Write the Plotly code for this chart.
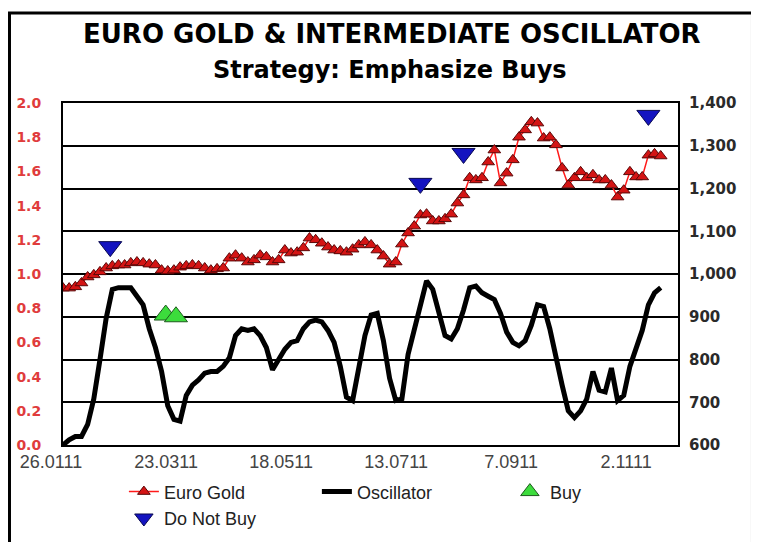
import pandas as pd
import plotly.graph_objects as go

# ---------------- data ----------------
start_date = "2011-01-26"
step = "3D"

euro_gold = [967, 967, 970, 979, 993, 998, 1005, 1014, 1019, 1021,
             1021, 1026, 1028, 1026, 1023, 1021, 1009, 1007, 1009, 1016,
             1019, 1021, 1019, 1014, 1009, 1012, 1014, 1037, 1044, 1037,
             1028, 1033, 1044, 1040, 1028, 1033, 1056, 1049, 1051, 1061,
             1084, 1080, 1072, 1063, 1056, 1054, 1051, 1058, 1068, 1075,
             1068, 1056, 1042, 1023, 1028, 1070, 1096, 1112, 1138, 1140,
             1124, 1124, 1129, 1140, 1166, 1185, 1225, 1220, 1225, 1262,
             1290, 1213, 1236, 1267, 1320, 1337, 1356, 1353, 1318, 1320,
             1302, 1248, 1208, 1225, 1239, 1225, 1232, 1220, 1220, 1208,
             1180, 1196, 1239, 1227, 1227, 1278, 1281, 1276]

oscillator = [0.00, 0.03, 0.05, 0.05, 0.12, 0.27, 0.50, 0.74, 0.91, 0.92,
              0.92, 0.92, 0.87, 0.82, 0.68, 0.57, 0.43, 0.23, 0.15, 0.14,
              0.29, 0.35, 0.38, 0.42, 0.43, 0.43, 0.46, 0.51, 0.64, 0.68,
              0.67, 0.68, 0.64, 0.57, 0.44, 0.50, 0.56, 0.60, 0.61, 0.68,
              0.72, 0.73, 0.72, 0.67, 0.60, 0.46, 0.28, 0.26, 0.44, 0.64,
              0.76, 0.77, 0.61, 0.39, 0.26, 0.27, 0.53, 0.67, 0.83, 0.96,
              0.91, 0.76, 0.64, 0.62, 0.68, 0.79, 0.92, 0.93, 0.89, 0.87,
              0.85, 0.77, 0.66, 0.60, 0.58, 0.61, 0.70, 0.82, 0.81, 0.68,
              0.50, 0.35, 0.20, 0.16, 0.20, 0.27, 0.43, 0.32, 0.31, 0.45,
              0.26, 0.29, 0.46, 0.57, 0.67, 0.82, 0.89, 0.92]

dates = pd.date_range(start_date, periods=len(euro_gold), freq=step)

buy_dates = ["2011-03-17", "2011-03-22"]
buy_values = [0.76, 0.75]                       # left (oscillator) axis

no_buy_dates = ["2011-02-18", "2011-07-19", "2011-08-09", "2011-11-07"]
no_buy_values = [1064, 1212, 1282, 1371]        # right (gold) axis

tick_dates = ["2011-01-26", "2011-03-23", "2011-05-18",
              "2011-07-13", "2011-09-07", "2011-11-02"]
tick_labels = ["26.0111", "23.0311", "18.0511", "13.0711", "7.0911", "2.1111"]

x_range = ["2011-01-26", "2011-11-21 10:00"]

title_1 = "EURO GOLD & INTERMEDIATE OSCILLATOR"
title_2 = "Strategy: Emphasize Buys"

# ---------------- figure ----------------
fig = go.Figure()

fig.add_trace(go.Scatter(
    x=dates, y=euro_gold, name="Euro Gold", yaxis="y2",
    mode="lines+markers",
    line=dict(color="#FF1A1A", width=1.5),
    marker=dict(symbol="triangle-up", size=11, color="#D41414",
                line=dict(color="#5A0808", width=1)),
))

fig.add_trace(go.Scatter(
    x=dates, y=oscillator, name="Oscillator", yaxis="y",
    mode="lines",
    line=dict(color="#000000", width=5),
))

fig.add_trace(go.Scatter(
    x=buy_dates, y=buy_values, name="Buy", yaxis="y",
    mode="markers",
    marker=dict(symbol="triangle-up", size=20, color="#3CDC3C",
                line=dict(color="#1E5A1E", width=1)),
))

fig.add_trace(go.Scatter(
    x=no_buy_dates, y=no_buy_values, name="Do Not Buy", yaxis="y2",
    mode="markers",
    marker=dict(symbol="triangle-down", size=20, color="#1414C0",
                line=dict(color="#0A0A50", width=1)),
))

# the page body adds an 8px offset; size the figure so the plot area lands
# at x 63..678, y 103..445 of the 759x542 window
fig.update_layout(
    width=751, height=534,
    margin=dict(l=55, r=81, t=95, b=97, autoexpand=False),
    paper_bgcolor="white", plot_bgcolor="white",
    font=dict(family="Liberation Sans", color="#222222"),
    showlegend=True,
    legend=dict(
        orientation="h", x=0.099, xanchor="left", y=-0.083, yanchor="top",
        entrywidth=148, entrywidthmode="pixels",
        font=dict(family="Liberation Sans", size=18, color="#222222"),
        bgcolor="rgba(0,0,0,0)",
    ),
    xaxis=dict(
        type="date", range=x_range,
        tickmode="array", tickvals=tick_dates, ticktext=tick_labels,
        ticks="", showgrid=False, zeroline=False,
        showline=True, linecolor="black", linewidth=2, mirror=True,
        tickfont=dict(family="Liberation Sans", size=18, color="#444444"),
        ticklabelshift=-12, ticklabelstandoff=-1,
    ),
    yaxis=dict(
        range=[0, 2], dtick=0.2, tick0=0, tickformat=".1f",
        showgrid=False, zeroline=False, ticks="",
        showline=True, linecolor="black", linewidth=2, mirror=True,
        tickfont=dict(family="DejaVu Sans", size=14, color="#E03C3C", weight="bold"),
        ticklabelstandoff=17,
    ),
    yaxis2=dict(
        range=[600, 1400], dtick=100, tick0=600, tickformat=",d",
        overlaying="y", side="right",
        showgrid=True, gridcolor="black", gridwidth=1.5,
        zeroline=False, ticks="",
        showline=True, linecolor="black", linewidth=2,
        tickfont=dict(family="DejaVu Sans", size=15, color="#2A2A2A", weight="bold"),
        ticklabelstandoff=6,
    ),
    annotations=[
        dict(text=title_1, xref="paper", yref="paper", x=0.535, y=1.202,
             xanchor="center", yanchor="middle", showarrow=False,
             font=dict(family="DejaVu Sans", size=26, color="black", weight="bold")),
        dict(text=title_2, xref="paper", yref="paper", x=0.532, y=1.096,
             xanchor="center", yanchor="middle", showarrow=False,
             font=dict(family="DejaVu Sans", size=24, color="black", weight="bold")),
    ],
    shapes=[
        dict(type="rect", xref="paper", yref="paper",
             x0=-0.087, x1=1.1211, y0=-0.30, y1=1.263,
             line=dict(color="black", width=3), fillcolor="rgba(0,0,0,0)",
             layer="below"),
    ],
)

fig.write_html("out.html")
